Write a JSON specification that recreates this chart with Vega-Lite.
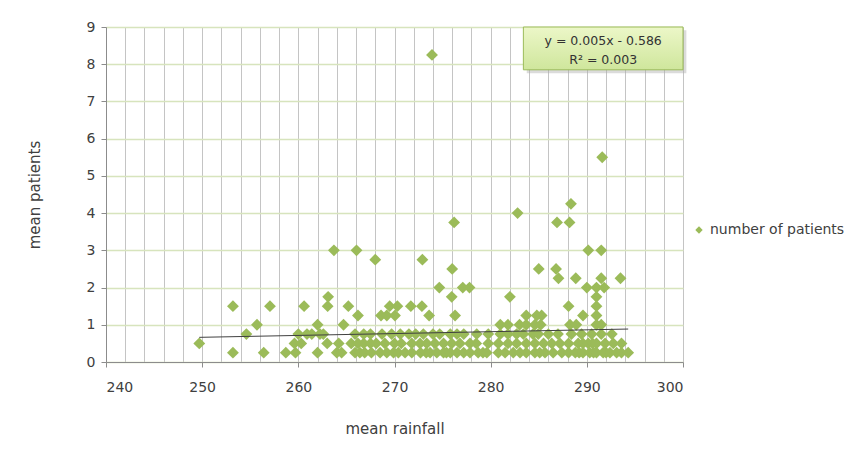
{
  "$schema": "https://vega.github.io/schema/vega-lite/v6.json",
  "autosize": {"type": "none"},
  "padding": {"left": 106, "top": 27, "right": 162, "bottom": 99},
  "width": 577,
  "height": 335,
  "background": "white",
  "config": {
    "font": "DejaVu Sans",
    "view": {"stroke": null},
    "axis": {"labelFont": "DejaVu Sans", "titleFont": "DejaVu Sans", "labelColor": "#404040", "titleColor": "#404040", "titleFontWeight": "normal"}
  },
  "datasets": {
    "pts": [
      {"rainfall":253.2,"patients":0.25},{"rainfall":256.4,"patients":0.25},{"rainfall":258.7,"patients":0.25},{"rainfall":259.7,"patients":0.25},{"rainfall":262.0,"patients":0.25},{"rainfall":264.0,"patients":0.25},{"rainfall":264.5,"patients":0.25},{"rainfall":265.9,"patients":0.25},{"rainfall":266.4,"patients":0.25},{"rainfall":266.9,"patients":0.25},{"rainfall":267.6,"patients":0.25},{"rainfall":268.5,"patients":0.25},{"rainfall":269.2,"patients":0.25},{"rainfall":269.9,"patients":0.25},{"rainfall":270.4,"patients":0.25},{"rainfall":271.1,"patients":0.25},{"rainfall":271.8,"patients":0.25},{"rainfall":272.7,"patients":0.25},{"rainfall":273.3,"patients":0.25},{"rainfall":273.7,"patients":0.25},{"rainfall":274.4,"patients":0.25},{"rainfall":275.1,"patients":0.25},{"rainfall":275.4,"patients":0.25},{"rainfall":275.8,"patients":0.25},{"rainfall":276.5,"patients":0.25},{"rainfall":277.2,"patients":0.25},{"rainfall":277.85,"patients":0.25},{"rainfall":278.7,"patients":0.25},{"rainfall":279.2,"patients":0.25},{"rainfall":279.6,"patients":0.25},{"rainfall":280.8,"patients":0.25},{"rainfall":281.5,"patients":0.25},{"rainfall":282.35,"patients":0.25},{"rainfall":283.05,"patients":0.25},{"rainfall":283.7,"patients":0.25},{"rainfall":284.6,"patients":0.25},{"rainfall":285.1,"patients":0.25},{"rainfall":285.65,"patients":0.25},{"rainfall":286.5,"patients":0.25},{"rainfall":287.4,"patients":0.25},{"rainfall":288.1,"patients":0.25},{"rainfall":288.8,"patients":0.25},{"rainfall":289.2,"patients":0.25},{"rainfall":289.6,"patients":0.25},{"rainfall":290.3,"patients":0.25},{"rainfall":290.7,"patients":0.25},{"rainfall":291.0,"patients":0.25},{"rainfall":291.7,"patients":0.25},{"rainfall":292.0,"patients":0.25},{"rainfall":292.4,"patients":0.25},{"rainfall":293.1,"patients":0.25},{"rainfall":293.6,"patients":0.25},{"rainfall":294.3,"patients":0.25},
      {"rainfall":249.7,"patients":0.5},{"rainfall":259.6,"patients":0.5},{"rainfall":260.3,"patients":0.5},{"rainfall":263.0,"patients":0.5},{"rainfall":264.2,"patients":0.5},{"rainfall":265.5,"patients":0.5},{"rainfall":266.2,"patients":0.5},{"rainfall":266.8,"patients":0.5},{"rainfall":267.5,"patients":0.5},{"rainfall":268.1,"patients":0.5},{"rainfall":269.0,"patients":0.5},{"rainfall":270.0,"patients":0.5},{"rainfall":270.7,"patients":0.5},{"rainfall":271.8,"patients":0.5},{"rainfall":272.65,"patients":0.5},{"rainfall":273.35,"patients":0.5},{"rainfall":274.2,"patients":0.5},{"rainfall":275.1,"patients":0.5},{"rainfall":275.95,"patients":0.5},{"rainfall":276.8,"patients":0.5},{"rainfall":277.85,"patients":0.5},{"rainfall":278.5,"patients":0.5},{"rainfall":279.75,"patients":0.5},{"rainfall":280.8,"patients":0.5},{"rainfall":281.8,"patients":0.5},{"rainfall":282.7,"patients":0.5},{"rainfall":283.7,"patients":0.5},{"rainfall":284.6,"patients":0.5},{"rainfall":285.5,"patients":0.5},{"rainfall":286.35,"patients":0.5},{"rainfall":287.2,"patients":0.5},{"rainfall":288.1,"patients":0.5},{"rainfall":289.1,"patients":0.5},{"rainfall":289.6,"patients":0.5},{"rainfall":290.15,"patients":0.5},{"rainfall":290.6,"patients":0.5},{"rainfall":291.0,"patients":0.5},{"rainfall":291.9,"patients":0.5},{"rainfall":292.75,"patients":0.5},{"rainfall":293.6,"patients":0.5},
      {"rainfall":254.6,"patients":0.75},{"rainfall":260.0,"patients":0.75},{"rainfall":260.9,"patients":0.75},{"rainfall":261.4,"patients":0.75},{"rainfall":262.25,"patients":0.75},{"rainfall":262.6,"patients":0.75},{"rainfall":265.9,"patients":0.75},{"rainfall":266.8,"patients":0.75},{"rainfall":267.5,"patients":0.75},{"rainfall":268.7,"patients":0.75},{"rainfall":269.7,"patients":0.75},{"rainfall":270.6,"patients":0.75},{"rainfall":271.5,"patients":0.75},{"rainfall":272.2,"patients":0.75},{"rainfall":273.0,"patients":0.75},{"rainfall":274.0,"patients":0.75},{"rainfall":274.7,"patients":0.75},{"rainfall":275.8,"patients":0.75},{"rainfall":276.5,"patients":0.75},{"rainfall":277.2,"patients":0.75},{"rainfall":278.55,"patients":0.75},{"rainfall":279.75,"patients":0.75},{"rainfall":281.0,"patients":0.75},{"rainfall":281.8,"patients":0.75},{"rainfall":282.7,"patients":0.75},{"rainfall":283.4,"patients":0.75},{"rainfall":284.4,"patients":0.75},{"rainfall":284.95,"patients":0.75},{"rainfall":286.0,"patients":0.75},{"rainfall":287.0,"patients":0.75},{"rainfall":288.4,"patients":0.75},{"rainfall":289.45,"patients":0.75},{"rainfall":290.5,"patients":0.75},{"rainfall":291.5,"patients":0.75},{"rainfall":292.6,"patients":0.75},
      {"rainfall":255.7,"patients":1.0},{"rainfall":262.0,"patients":1.0},{"rainfall":264.7,"patients":1.0},{"rainfall":281.0,"patients":1.0},{"rainfall":281.8,"patients":1.0},{"rainfall":283.0,"patients":1.0},{"rainfall":283.7,"patients":1.0},{"rainfall":284.6,"patients":1.0},{"rainfall":285.2,"patients":1.0},{"rainfall":288.25,"patients":1.0},{"rainfall":288.9,"patients":1.0},{"rainfall":291.0,"patients":1.0},{"rainfall":291.5,"patients":1.0},
      {"rainfall":266.2,"patients":1.25},{"rainfall":268.6,"patients":1.25},{"rainfall":269.2,"patients":1.25},{"rainfall":270.05,"patients":1.25},{"rainfall":273.6,"patients":1.25},{"rainfall":276.3,"patients":1.25},{"rainfall":283.7,"patients":1.25},{"rainfall":284.8,"patients":1.25},{"rainfall":285.3,"patients":1.25},{"rainfall":289.6,"patients":1.25},{"rainfall":291.0,"patients":1.25},
      {"rainfall":253.2,"patients":1.5},{"rainfall":257.05,"patients":1.5},{"rainfall":260.6,"patients":1.5},{"rainfall":263.05,"patients":1.5},{"rainfall":265.2,"patients":1.5},{"rainfall":269.5,"patients":1.5},{"rainfall":270.3,"patients":1.5},{"rainfall":271.7,"patients":1.5},{"rainfall":272.85,"patients":1.5},{"rainfall":288.1,"patients":1.5},{"rainfall":291.0,"patients":1.5},
      {"rainfall":263.1,"patients":1.75},{"rainfall":275.95,"patients":1.75},{"rainfall":282.0,"patients":1.75},{"rainfall":291.0,"patients":1.75},
      {"rainfall":274.66,"patients":2.0},{"rainfall":277.1,"patients":2.0},{"rainfall":277.8,"patients":2.0},{"rainfall":290.0,"patients":2.0},{"rainfall":291.0,"patients":2.0},{"rainfall":291.8,"patients":2.0},
      {"rainfall":287.05,"patients":2.25},{"rainfall":288.85,"patients":2.25},{"rainfall":291.5,"patients":2.25},{"rainfall":293.5,"patients":2.25},
      {"rainfall":276.0,"patients":2.5},{"rainfall":285.0,"patients":2.5},{"rainfall":286.8,"patients":2.5},
      {"rainfall":268.0,"patients":2.75},{"rainfall":272.9,"patients":2.75},
      {"rainfall":263.7,"patients":3.0},{"rainfall":266.05,"patients":3.0},{"rainfall":290.15,"patients":3.0},{"rainfall":291.5,"patients":3.0},
      {"rainfall":276.2,"patients":3.75},{"rainfall":286.9,"patients":3.75},{"rainfall":288.2,"patients":3.75},
      {"rainfall":282.8,"patients":4.0},
      {"rainfall":288.35,"patients":4.25},
      {"rainfall":291.6,"patients":5.5},
      {"rainfall":273.9,"patients":8.25}
    ],
    "trend": [
      {"rainfall":249.7,"patients":0.6625},
      {"rainfall":294.3,"patients":0.8855}
    ]
  },
  "layer": [
    {
      "data": {"name": "pts"},
      "mark": {"type": "point", "shape": "diamond", "filled": true, "opacity": 1, "size": 140},
      "encoding": {
        "x": {
          "field": "rainfall", "type": "quantitative",
          "scale": {"domain": [240, 300], "nice": false, "zero": false},
          "axis": {
            "tickCount": 30,
            "grid": true, "gridColor": "#c4c4c4", "gridWidth": 1,
            "labelExpr": "datum.value % 10 === 0 ? datum.label : ''",
            "labelOverlap": false,
            "tickSize": 5,
            "tickColor": {"condition": {"test": "datum.value % 10 === 0", "value": "#8c8c8c"}, "value": "transparent"},
            "domainColor": "#8c8c8c",
            "labelFontSize": 14, "labelPadding": 13,
            "title": "mean rainfall", "titleFontSize": 15, "titlePadding": 27
          }
        },
        "y": {
          "field": "patients", "type": "quantitative",
          "scale": {"domain": [0, 9], "nice": false},
          "axis": {
            "tickCount": 9,
            "labelOverlap": false,
            "grid": true, "gridColor": "#d7e4bd", "gridWidth": 1.5,
            "tickSize": 5, "tickColor": "#8c8c8c", "domainColor": "#8c8c8c",
            "labelFontSize": 14, "labelPadding": 6,
            "title": "mean patients", "titleFontSize": 15, "titlePadding": 44
          }
        },
        "color": {
          "datum": "number of patients",
          "scale": {"range": ["#9bbb59"]},
          "legend": {
            "title": null, "orient": "none", "legendX": 586, "legendY": 196,
            "symbolType": "diamond", "symbolSize": 55, "symbolStrokeWidth": 0,
            "labelFontSize": 14, "labelColor": "#404040", "labelFont": "DejaVu Sans", "labelOffset": 4
          }
        }
      }
    },
    {
      "data": {"name": "trend"},
      "mark": {"type": "line", "color": "#404040", "strokeWidth": 1},
      "encoding": {
        "x": {"field": "rainfall", "type": "quantitative", "title": "mean rainfall"},
        "y": {"field": "patients", "type": "quantitative", "title": "mean patients"}
      }
    },
    {
      "data": {"values": [{}]},
      "mark": {"type": "rect", "fill": "#b0b0b0", "opacity": 0.45},
      "encoding": {
        "x": {"datum": 283.75, "type": "quantitative", "title": "mean rainfall"},
        "x2": {"datum": 300.35},
        "y": {"datum": 8.91, "type": "quantitative", "title": "mean patients"},
        "y2": {"datum": 7.76}
      }
    },
    {
      "data": {"values": [{}]},
      "mark": {"type": "rect", "fill": {"gradient": "linear", "x1": 0, "y1": 0, "x2": 0, "y2": 1, "stops": [{"offset": 0, "color": "#ecf7c8"}, {"offset": 1, "color": "#cfe69c"}]}, "stroke": "#9bbb59", "strokeWidth": 1},
      "encoding": {
        "x": {"datum": 283.4, "type": "quantitative", "title": "mean rainfall"},
        "x2": {"datum": 300.0},
        "y": {"datum": 9.0, "type": "quantitative", "title": "mean patients"},
        "y2": {"datum": 7.85}
      }
    },
    {
      "data": {"values": [{}]},
      "mark": {"type": "text", "text": ["y = 0.005x - 0.586", "R² = 0.003"], "fontSize": 12.5, "lineHeight": 19, "color": "#333333", "align": "center", "baseline": "middle", "font": "DejaVu Sans"},
      "encoding": {
        "x": {"datum": 291.7, "type": "quantitative", "title": "mean rainfall"},
        "y": {"datum": 8.63, "type": "quantitative", "title": "mean patients"}
      }
    }
  ]
}
